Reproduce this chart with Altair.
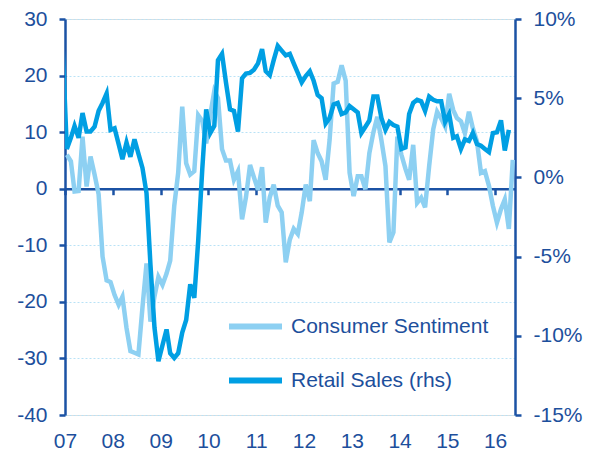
import altair as alt
import pandas as pd

# ---- data (monthly) ----
series_names = ["Consumer Sentiment", "Retail Sales (rhs)"]

# Consumer Sentiment (lhs), Jan 2007 .. May 2016
sentiment = [
    6.0, 4.85, -0.5, -0.4, 9.2, 0.4, 5.7, 2.5, -1.0, -12.0, -16.2, -16.5,
    -18.8, -20.5, -19.1, -24.6, -28.7, -29.0, -29.3, -21.0, -13.2, -23.5, -19.0, -15.6,
    -17.0, -15.0, -12.7, -3.0, 2.8, 14.5, 4.5, 2.5, 3.1, 13.0, 12.0, 8.0,
    13.0, 17.3, 16.0, 7.0, 5.0, 5.0, 1.6, 3.1, -5.4, -1.5, 4.2, 2.0,
    -0.2, 3.8, -6.0, -1.5, 0.7, -3.0, -4.2, -13.0, -9.0, -7.1, -8.0, -4.2,
    0.75, -2.2, 8.6, 6.3, 4.85, 1.6, 8.6, 18.6, 18.9, 21.8, 19.1, 2.8,
    -1.3, 2.2, 2.2, -0.1, 6.3, 10.0, 12.7, 8.6, 4.0, -9.5, -7.7, 9.2,
    6.0, 3.5, 1.6, 7.75, -2.5, -1.6, -3.3, 4.0, 10.5, 13.6, 12.4, 11.0,
    16.8, 13.9, 12.5, 11.9, 9.8, 13.6, 10.7, 8.4, 2.8, 3.1, 0.5, -3.0,
    -6.0, -3.6, -1.9, -7.1, 5.1,
]

# Retail Sales y/y % (rhs), Dec 2006 .. Apr 2016
retail = [
    8.0,
    1.8, 2.5, 3.25, 2.5, 4.06, 2.9, 2.9, 3.2, 4.2, 4.7, 5.3, 3.0,
    3.1, 2.1, 1.15, 2.2, 1.3, 2.4, 1.5, 0.6, -1.0, -5.5, -9.5, -11.6,
    -10.6, -9.6, -11.1, -11.4, -11.1, -9.8, -9.0, -6.75, -7.6, -4.0, 0.5, 4.3,
    2.8, 3.25, 7.4, 7.8, 6.0, 4.3, 4.2, 2.9, 6.25, 6.55, 6.6, 6.8,
    7.2, 8.1, 6.7, 6.45, 7.4, 8.3, 8.0, 7.7, 7.8, 7.2, 6.6, 6.0,
    6.4, 6.7, 6.1, 5.2, 5.0, 3.4, 3.75, 4.6, 4.7, 4.0, 4.1, 4.5,
    4.3, 4.1, 2.8, 3.2, 3.6, 5.1, 5.1, 3.75, 3.0, 3.5, 3.3, 3.2,
    1.8, 1.9, 4.0, 4.7, 4.9, 4.8, 4.2, 5.1, 4.9, 4.8, 4.8, 3.5,
    4.0, 2.5, 2.6, 1.8, 2.4, 2.3, 2.8, 2.1, 2.0, 1.8, 1.6, 2.8,
    2.85, 3.6, 1.7, 3.0,
]

year_ticks = list(range(2007, 2017))
left_ticks = [-40, -30, -20, -10, 0, 10, 20, 30]
right_ticks = [-15, -10, -5, 0, 5, 10]

# ---- build tables ----
def month_dates(start, n):
    d = pd.date_range(start, periods=n, freq="MS") + pd.Timedelta(days=14)
    return [x.strftime("%Y-%m-%d") for x in d]

df_s = pd.DataFrame({"date": month_dates("2007-01-01", len(sentiment)),
                     "value": sentiment, "series": series_names[0]})
df_r = pd.DataFrame({"date": month_dates("2006-12-01", len(retail)),
                     "value": retail, "series": series_names[1]})

# ---- styles ----
FONT = "Liberation Sans"
TEXT = "#1d4f9c"
AXIS = "#1b52a4"
LIGHT = "#8dd0f2"
DARK = "#009fe3"
GRID = "#b9e2f6"

W, H = 450, 396
PAD_TOP = 11
zero_offset = -H * (0 - left_ticks[0]) / (left_ticks[-1] - left_ticks[0])

year_vals = [alt.DateTime(year=y, month=1, date=1, utc=True) for y in year_ticks]
x_scale = alt.Scale(type="utc", domain=[alt.DateTime(year=2007, month=1, date=1, utc=True),
                                        alt.DateTime(year=2016, month=6, date=1, utc=True)])
color_scale = alt.Scale(domain=series_names, range=[LIGHT, DARK])

legend = alt.Legend(title=None, orient="none", legendX=161, legendY=282 - (PAD_TOP - 7),
                    symbolType="stroke", symbolSize=2809, symbolStrokeWidth=6,
                    labelFontSize=21, labelFont=FONT, labelColor=TEXT, labelLimit=0,
                    rowPadding=12, labelOffset=6, padding=0, direction="vertical")

sent = alt.Chart(df_s).mark_line(strokeWidth=4.5, clip=True).encode(
    x=alt.X("date:T", scale=x_scale,
            axis=alt.Axis(orient="bottom", values=year_vals,
                          labelExpr="utcFormat(datum.value, '%y')",
                          ticks=False, domain=False, grid=False, title=None,
                          labelFontSize=21, labelFont=FONT, labelColor=TEXT,
                          labelPadding=15, labelFlush=False)),
    y=alt.Y("value:Q", scale=alt.Scale(domain=[-40, 30], nice=False, zero=False),
            axis=alt.Axis(orient="left", values=left_ticks, labelExpr="datum.value + ''",
                          grid=True, gridColor=GRID, gridDash=[2, 2], gridWidth=1,
                          tickSize=6, tickColor=AXIS, tickWidth=2.5,
                          domainColor=AXIS, domainWidth=2.5, title=None,
                          labelFontSize=21, labelFont=FONT, labelColor=TEXT,
                          labelPadding=12)),
    color=alt.Color("series:N", scale=color_scale, legend=legend),
)

ret = alt.Chart(df_r).mark_line(strokeWidth=4.5, clip=True).encode(
    x=alt.X("date:T", scale=x_scale,
            axis=alt.Axis(orient="bottom", offset=zero_offset, values=year_vals,
                          labels=False, ticks=True, tickSize=6, tickColor=AXIS, tickWidth=2.5,
                          domain=True, domainColor=AXIS, domainWidth=2.5,
                          grid=False, title=None)),
    y=alt.Y("value:Q", scale=alt.Scale(domain=[-15, 10], nice=False, zero=False),
            axis=alt.Axis(orient="right", values=right_ticks, labelExpr="datum.value + '%'",
                          grid=False, tickSize=6, tickColor=AXIS, tickWidth=2.5,
                          domainColor=AXIS, domainWidth=2.5, title=None,
                          labelFontSize=21, labelFont=FONT, labelColor=TEXT,
                          labelPadding=12)),
    color=alt.Color("series:N", scale=color_scale, legend=legend),
)

chart = (
    alt.layer(sent, ret)
    .resolve_scale(y="independent")
    .resolve_axis(x="independent")
    .properties(width=W, height=H,
                padding={"left": 57, "top": PAD_TOP, "right": 73, "bottom": 38},
                autosize=alt.AutoSizeParams(type="none"))
    .configure_view(stroke=None)
    .configure(font=FONT)
)

chart.save("out.html", embed_options={"renderer": "svg", "actions": False})
